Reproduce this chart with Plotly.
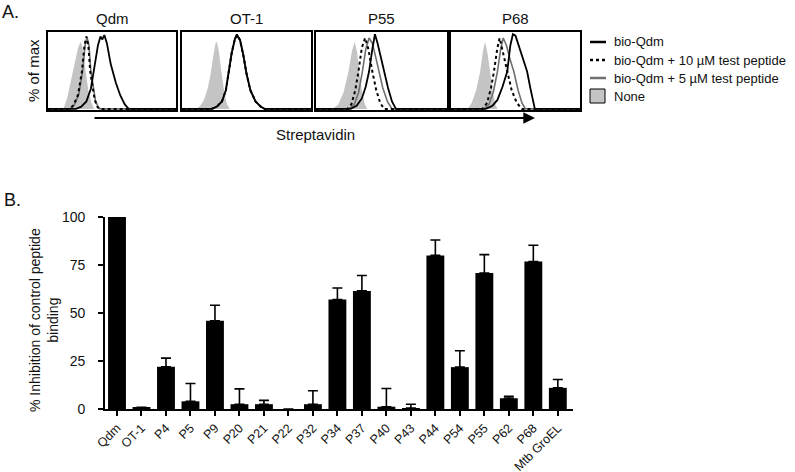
import plotly.graph_objects as go

# ---------------- Panel A data (flow histograms, x: 0-100 fluorescence scale, y: % of max)
PANEL_TITLES = ["Qdm", "OT-1", "P55", "P68"]

QDM_NONE_X = [0, 12, 15, 18, 21, 23.5, 25.5, 27, 29, 31.5, 34, 36, 100]
QDM_NONE_Y = [0, 0, 15, 38, 62, 82, 90, 82, 55, 25, 8, 0, 0]
QDM_C10_X = [0, 17, 20, 23.5, 26.5, 28.5, 30, 31.5, 33, 35, 36.5, 38.5, 40, 100]
QDM_C10_Y = [0, 0, 5, 19, 50, 85, 97, 85, 50, 25, 12, 3, 0, 0]
QDM_C5_X = [0, 17.5, 20.5, 24, 27, 29, 30.5, 32, 33.5, 35.5, 37, 39, 40.5, 100]
QDM_C5_Y = [0, 0, 5, 19, 50, 85, 96, 85, 50, 25, 12, 3, 0, 0]
QDM_BIO_X = [0, 22, 26, 30, 33.5, 36.5, 39, 41, 42.5, 44, 46, 49, 53, 56.5, 60, 63, 100]
QDM_BIO_Y = [0, 0, 3, 10, 27, 58, 85, 97, 93, 99, 88, 60, 35, 18, 6, 0, 0]

OT1_NONE_X = [0, 11, 14, 17, 20, 22, 24, 26, 27, 28.5, 30.5, 33, 35, 37, 100]
OT1_NONE_Y = [0, 0, 4, 12, 28, 45, 68, 88, 90, 78, 50, 20, 6, 0, 0]
OT1_C10_X = [0, 23, 27, 31, 34, 36, 38.5, 41, 43, 45, 47.5, 50, 53, 57, 61, 64, 100]
OT1_C10_Y = [0, 0, 3, 10, 25, 50, 75, 94, 99, 92, 72, 47, 25, 10, 3, 0, 0]
OT1_C5_X = [0, 23, 27, 31, 34, 36.2, 38.7, 41.2, 43.2, 45.2, 47.7, 50.2, 53, 57, 61, 64, 100]
OT1_C5_Y = [0, 0, 3, 10, 25, 50, 75, 94, 98, 92, 72, 47, 25, 10, 3, 0, 0]
OT1_BIO_X = [0, 23, 27, 31, 34, 36, 38.5, 41, 42.5, 43.5, 45, 47.5, 50, 53, 57, 61, 64, 100]
OT1_BIO_Y = [0, 0, 3, 10, 25, 50, 75, 94, 100, 96, 92, 72, 47, 25, 10, 3, 0, 0]

P55_NONE_X = [0, 12.5, 17, 21, 24.8, 27.5, 29.6, 31.5, 33, 35, 37, 39, 100]
P55_NONE_Y = [0, 0, 6, 22, 50, 78, 90, 75, 50, 25, 8, 0, 0]
P55_C10_X = [0, 24, 27, 30, 32.4, 35, 37.5, 40, 43, 46, 49, 52, 100]
P55_C10_Y = [0, 0, 6, 25, 50, 82, 95, 80, 50, 25, 8, 0, 0]
P55_C5_X = [0, 25, 29, 32.5, 35.4, 38, 40.5, 43, 45.5, 48, 51, 54.5, 58, 100]
P55_C5_Y = [0, 0, 5, 22, 50, 80, 95, 88, 70, 50, 28, 10, 0, 0]
P55_BIO_X = [0, 26.5, 31, 35, 38, 40.5, 43, 45, 47, 49.5, 52, 55, 58, 61, 100]
P55_BIO_Y = [0, 0, 4, 14, 30, 50, 80, 100, 88, 68, 50, 28, 10, 0, 0]

P68_NONE_X = [0, 12.8, 16, 19.5, 22.6, 24.8, 26.4, 28.3, 30.3, 32.5, 34.5, 36, 100]
P68_NONE_Y = [0, 0, 8, 25, 50, 78, 90, 75, 50, 22, 6, 0, 0]
P68_C10_X = [0, 24.4, 28, 31, 33.3, 35.8, 37.7, 40, 43.6, 47, 51, 55, 100]
P68_C10_Y = [0, 0, 8, 28, 50, 80, 95, 78, 50, 25, 8, 0, 0]
P68_C5_X = [0, 25.6, 29.5, 33, 36, 38.5, 40.5, 43, 46, 48.7, 52, 55, 57.7, 100]
P68_C5_Y = [0, 0, 6, 24, 50, 80, 95, 85, 65, 50, 25, 8, 0, 0]
P68_BIO_X = [0, 27, 32, 36, 40, 43.6, 46, 48, 50, 52.5, 55, 57, 59, 61.5, 63.5, 65, 100]
P68_BIO_Y = [0, 0, 4, 12, 30, 50, 85, 100, 98, 85, 72, 60, 50, 28, 10, 0, 0]

LEGEND_LABELS = ["bio-Qdm", "bio-Qdm + 10 µM test peptide",
                 "bio-Qdm + 5 µM test peptide", "None"]

# ---------------- Panel B data
CATEGORIES = ["Qdm", "OT-1", "P4", "P5", "P9", "P20", "P21", "P22", "P32", "P34",
              "P37", "P40", "P43", "P44", "P54", "P55", "P62", "P68", "Mtb GroEL"]
INHIBITION = [100, 0.6, 22, 4, 46, 2.5, 2.5, 0, 2.5, 57, 61.5, 1.2, 0.5, 80,
              21.8, 70.8, 5.6, 76.8, 11]
SEM = [0.3, 0.3, 4.5, 9.3, 8, 8, 2, 0, 7, 6, 8, 9.5, 2, 8, 8.5, 9.6, 1, 8.5, 4.4]
Y_TICKS = [0, 25, 50, 75, 100]

# ---------------- layout helpers (pixel -> paper)
W, H = 795, 472
def fx(px):
    return px / W
def fy(py):
    return 1 - py / H

FONT = "Liberation Sans, Arial, sans-serif"
fig = go.Figure()

panels = [
    (QDM_NONE_X, QDM_NONE_Y, QDM_C5_X, QDM_C5_Y, QDM_C10_X, QDM_C10_Y, QDM_BIO_X, QDM_BIO_Y),
    (OT1_NONE_X, OT1_NONE_Y, OT1_C5_X, OT1_C5_Y, OT1_C10_X, OT1_C10_Y, OT1_BIO_X, OT1_BIO_Y),
    (P55_NONE_X, P55_NONE_Y, P55_C5_X, P55_C5_Y, P55_C10_X, P55_C10_Y, P55_BIO_X, P55_BIO_Y),
    (P68_NONE_X, P68_NONE_Y, P68_C5_X, P68_C5_Y, P68_C10_X, P68_C10_Y, P68_BIO_X, P68_BIO_Y),
]
box_px = [(48, 176), (182, 311), (316, 447), (451, 580)]
box_top, box_bot = 32, 110

for i, (nx, ny, c5x, c5y, c10x, c10y, bx, by) in enumerate(panels):
    k = i + 1
    xa = "x" if k == 1 else f"x{k}"
    ya = "y" if k == 1 else f"y{k}"
    fig.add_trace(go.Scatter(x=nx, y=ny, mode="lines", fill="tozeroy",
                             fillcolor="#c4c4c4", line=dict(width=0, color="#c4c4c4"),
                             xaxis=xa, yaxis=ya, showlegend=False))
    fig.add_trace(go.Scatter(x=c5x, y=c5y, mode="lines",
                             line=dict(width=1.6, color="#707070"),
                             xaxis=xa, yaxis=ya, showlegend=False))
    fig.add_trace(go.Scatter(x=c10x, y=c10y, mode="lines",
                             line=dict(width=2, color="black", dash="dot"),
                             xaxis=xa, yaxis=ya, showlegend=False))
    fig.add_trace(go.Scatter(x=bx, y=by, mode="lines",
                             line=dict(width=1.8, color="black"),
                             xaxis=xa, yaxis=ya, showlegend=False))
    x0, x1 = box_px[i]
    axis_common = dict(showline=True, mirror=True, linecolor="black", linewidth=1.5,
                       showticklabels=False, ticks="", showgrid=False, zeroline=False,
                       automargin=False)
    fig.update_layout(**{
        ("xaxis" if k == 1 else f"xaxis{k}"): dict(domain=[fx(x0), fx(x1)], range=[0, 100],
                                                   anchor=ya, **axis_common),
        ("yaxis" if k == 1 else f"yaxis{k}"): dict(domain=[fy(box_bot), fy(box_top)],
                                                   range=[-1.5, 103], anchor=xa, **axis_common),
    })
    fig.add_annotation(x=fx((x0 + x1) / 2), y=fy(18), xref="paper", yref="paper",
                       text=PANEL_TITLES[i], showarrow=False,
                       font=dict(size=15, color="#111", family=FONT),
                       xanchor="center", yanchor="middle")

# ---------------- Panel B bars
fig.add_trace(go.Bar(x=CATEGORIES, y=INHIBITION, width=0.73,
                     marker=dict(color="black", line=dict(width=0)),
                     error_y=dict(type="data", array=SEM, arrayminus=[0] * len(SEM),
                                  symmetric=False, color="black", thickness=1.6, width=5),
                     xaxis="x5", yaxis="y5", showlegend=False))

fig.update_layout(
    xaxis5=dict(domain=[fx(105), fx(573)], anchor="y5", range=[-0.49, 18.62],
                showline=True, linecolor="black", linewidth=1.6,
                ticks="outside", ticklen=5, tickwidth=1.5, tickcolor="black",
                tickangle=-45, tickfont=dict(size=12.5, color="#111", family=FONT),
                ticklabelstandoff=0,
                showgrid=False, zeroline=False, automargin=False),
    yaxis5=dict(domain=[fy(409), fy(217)], anchor="x5", range=[0, 100],
                tickvals=Y_TICKS, showline=True, linecolor="black", linewidth=1.6,
                ticks="outside", ticklen=5, tickwidth=1.5, tickcolor="black",
                tickfont=dict(size=14, color="#111", family=FONT),
                ticklabelstandoff=10,
                showgrid=False, zeroline=False, automargin=False),
)

# ---------------- texts
ann = [
    dict(x=fx(0), y=fy(12), text="A.", size=18, xanchor="left"),
    dict(x=fx(2), y=fy(200), text="B.", size=18, xanchor="left"),
    dict(x=fx(315), y=fy(134), text="Streptavidin", size=15, xanchor="center"),
]
for a in ann:
    fig.add_annotation(x=a["x"], y=a["y"], xref="paper", yref="paper", text=a["text"],
                       showarrow=False, xanchor=a["xanchor"], yanchor="middle",
                       font=dict(size=a["size"], color="#111", family=FONT))

fig.add_annotation(x=fx(34), y=fy(71), xref="paper", yref="paper", text="% of max",
                   textangle=-90, showarrow=False, xanchor="center", yanchor="middle",
                   font=dict(size=15, color="#111", family=FONT))
fig.add_annotation(x=fx(44), y=fy(320), xref="paper", yref="paper",
                   text="% Inhibition of control peptide<br>binding",
                   textangle=-90, showarrow=False, xanchor="center", yanchor="middle",
                   align="center", font=dict(size=14, color="#111", family=FONT))

# arrow under panels
fig.add_annotation(x=fx(535), y=fy(118), xref="paper", yref="paper", text="",
                   showarrow=True, ax=-442, ay=0, axref="pixel", ayref="pixel",
                   arrowhead=2, arrowsize=1.3, arrowwidth=1.8, arrowcolor="black")

# manual legend
leg_rows = [42, 60, 78, 96]
fig.add_shape(type="line", xref="paper", yref="paper", x0=fx(590), x1=fx(606),
              y0=fy(leg_rows[0]), y1=fy(leg_rows[0]), line=dict(color="black", width=2.5))
fig.add_shape(type="line", xref="paper", yref="paper", x0=fx(590), x1=fx(606),
              y0=fy(leg_rows[1]), y1=fy(leg_rows[1]),
              line=dict(color="black", width=2.5, dash="dot"))
fig.add_shape(type="line", xref="paper", yref="paper", x0=fx(590), x1=fx(606),
              y0=fy(leg_rows[2]), y1=fy(leg_rows[2]), line=dict(color="#707070", width=2.5))
fig.add_shape(type="rect", xref="paper", yref="paper", x0=fx(590), x1=fx(605),
              y0=fy(leg_rows[3] + 7), y1=fy(leg_rows[3] - 7),
              fillcolor="#c4c4c4", line=dict(color="black", width=1))
for lbl, row in zip(LEGEND_LABELS, leg_rows):
    fig.add_annotation(x=fx(612), y=fy(row), xref="paper", yref="paper", text=lbl,
                       showarrow=False, xanchor="left", yanchor="middle",
                       font=dict(size=13, color="#111", family=FONT))

fig.update_layout(template="none", width=W, height=H,
                  margin=dict(l=0, r=0, t=0, b=0, pad=0, autoexpand=False),
                  paper_bgcolor="white", plot_bgcolor="white",
                  font=dict(family=FONT), showlegend=False, bargap=0.2)

fig.write_html("out.html", config={"displayModeBar": False},
               post_script="document.body.style.margin='0px';document.body.style.overflow='hidden';")
